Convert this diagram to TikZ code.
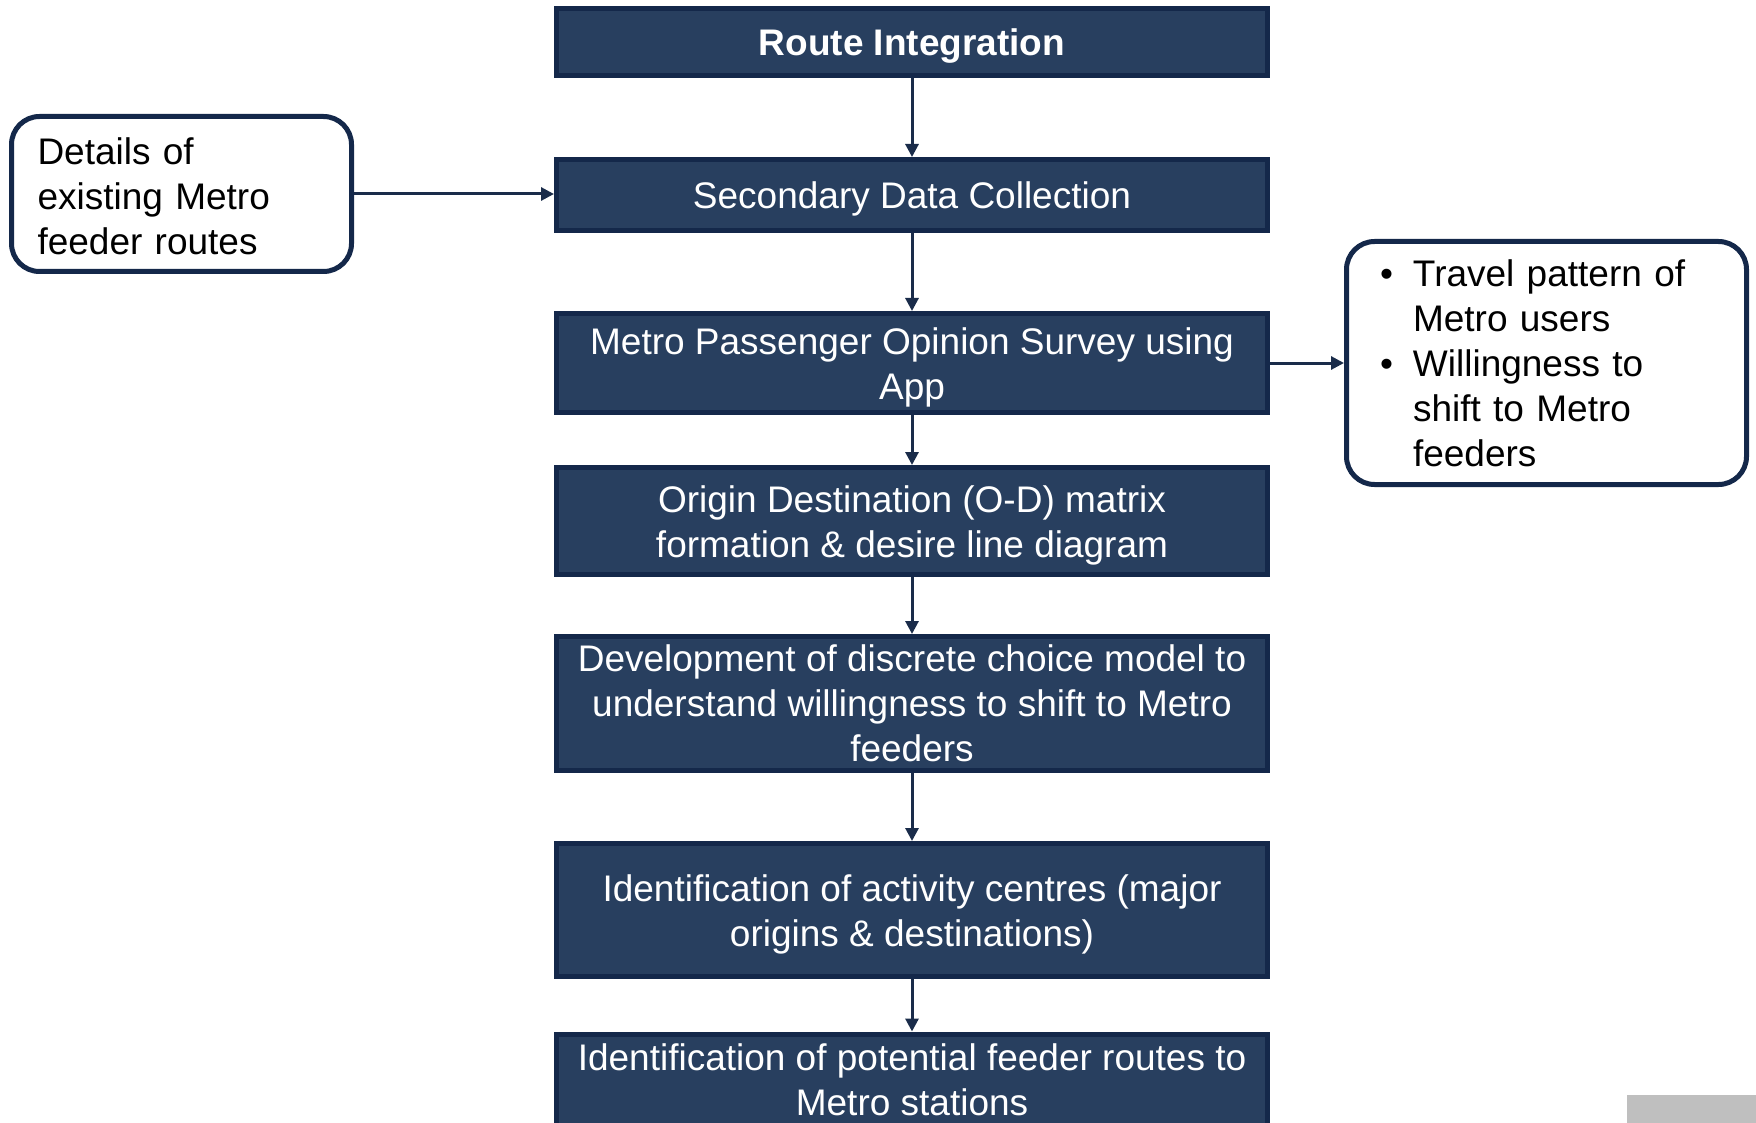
\documentclass[tikz,border=0pt]{standalone}
\usepackage{fontspec}
\setmainfont{Liberation Sans}
\usetikzlibrary{arrows.meta}
\definecolor{boxfill}{HTML}{283F5F}
\definecolor{boxline}{HTML}{14284A}
\definecolor{arrowc}{HTML}{1A2C4A}
\definecolor{greyblock}{HTML}{BFBFBF}
\newcommand{\mylowerstrut}{\rule{0pt}{35pt}}
\begin{document}
\begin{tikzpicture}[x=1pt,y=-1pt,
  mainbox/.style={draw=boxline, fill=boxfill, line width=5pt, text=white,
    minimum width=711pt, inner sep=0pt, align=center,
    font=\fontsize{37}{45}\selectfont},
  sidebox/.style={draw=boxline, fill=white, line width=5pt, rounded corners=28pt,
    text=black, inner sep=0pt, align=left, font=\fontsize{37}{45}\selectfont},
  conn/.style={draw=arrowc, line width=3pt, -{Triangle[length=13pt,width=13pt]}}]
\useasboundingbox (0,0) rectangle (1756,1123);

\node[mainbox, minimum height=67pt] (b1) at (912,42) {\mylowerstrut\bfseries Route Integration};
\node[mainbox, minimum height=71pt] (b2) at (912,195) {\mylowerstrut Secondary Data Collection};
\node[mainbox, minimum height=99pt] (b3) at (912,363) {\mylowerstrut Metro Passenger Opinion Survey using\\App};
\node[mainbox, minimum height=107pt] (b4) at (912,521) {\mylowerstrut Origin Destination (O-D) matrix\\formation \& desire line diagram};
\node[mainbox, minimum height=134pt] (b5) at (912,703.5) {Development of discrete choice model to\\understand willingness to shift to Metro\\feeders};
\node[mainbox, minimum height=133pt] (b6) at (912,910) {\mylowerstrut Identification of activity centres (major\\origins \& destinations)};
\node[mainbox, minimum height=91pt, anchor=north] (b7) at (912,1031.5) {Identification of potential feeder routes to\\Metro stations};

\node[sidebox, minimum width=340pt, minimum height=155pt, text width=288pt] (lb) at (181.5,194)
  {\rule{0pt}{31pt}Details of\\existing Metro\\feeder routes};
\node[sidebox, minimum width=400pt, minimum height=243pt, text width=333pt] (rb) at (1546.5,363)
  {\makebox[33pt][l]{•}Travel pattern of\\\hspace*{33pt}Metro users\\\makebox[33pt][l]{•}Willingness to\\\hspace*{33pt}shift to Metro\\\hspace*{33pt}feeders};

\draw[conn] (b1) -- (b2);
\draw[conn] (b2) -- (b3);
\draw[conn] (b3) -- (b4);
\draw[conn] (b4) -- (b5);
\draw[conn] (b5) -- (b6);
\draw[conn] (b6) -- (b7);
\draw[conn] (lb.east) -- (lb.east -| b2.west);
\draw[conn] (b3.east) -- (b3.east -| rb.west);

\fill[greyblock] (1627,1095) rectangle (1756,1123);
\end{tikzpicture}
\end{document}
